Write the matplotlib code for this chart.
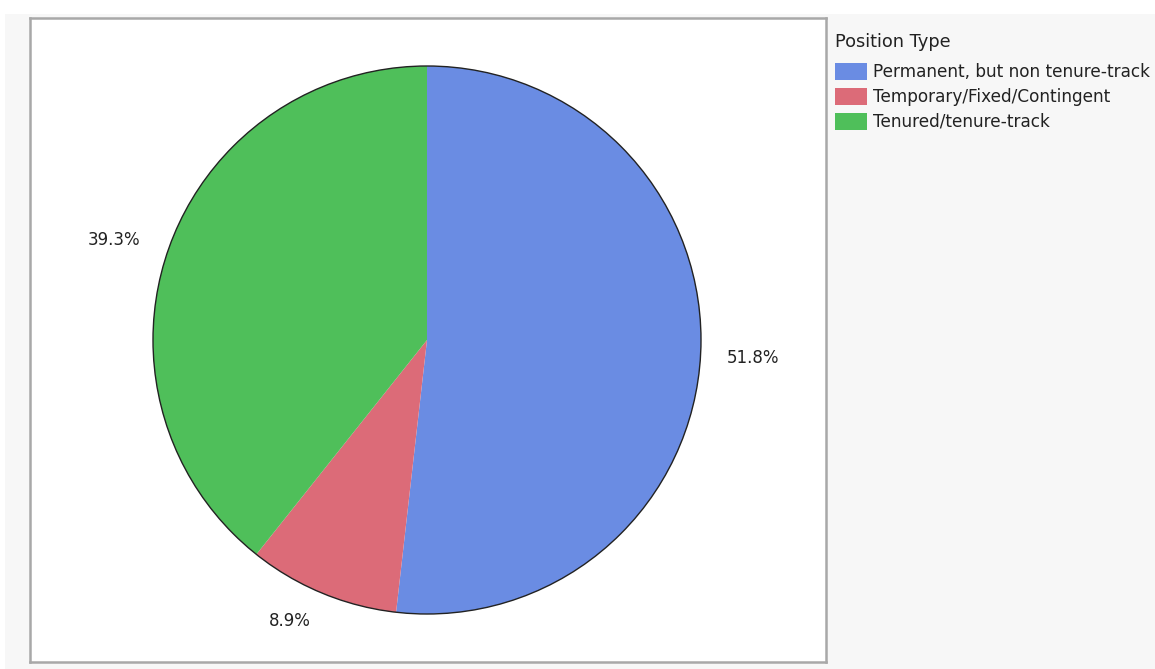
import matplotlib
matplotlib.use("Agg")
import numpy as np
import matplotlib.pyplot as plt
from matplotlib.patches import Rectangle

categories = ["Permanent, but non tenure-track", "Temporary/Fixed/Contingent", "Tenured/tenure-track"]
values = [51.8, 8.9, 39.3]
colors = ["#6A8CE3", "#DC6B78", "#4FBF5A"]
legend_title = "Position Type"

W, H = 1155, 669
fig = plt.figure(figsize=(W / 100, H / 100), dpi=100, facecolor="#f7f7f7")

# white strips at top and left
fig.add_artist(Rectangle((0, (H - 14) / H), 1, 14 / H, transform=fig.transFigure,
                         facecolor="white", edgecolor="none", zorder=0))
fig.add_artist(Rectangle((0, 0), 5 / W, 1, transform=fig.transFigure,
                         facecolor="white", edgecolor="none", zorder=0))

# plot frame
frame = fig.add_axes([30 / W, 7 / H, 796 / W, 644 / H])
frame.set_facecolor("white")
frame.set_xticks([]); frame.set_yticks([])
for s in frame.spines.values():
    s.set_color("#a8a8a8"); s.set_linewidth(1.8)

# pie axes
cx, cy, r = 427, H - 340, 274
ax = fig.add_axes([(cx - r) / W, (cy - r) / H, 2 * r / W, 2 * r / H])
ax.set_axis_off()
wedges, texts, autotexts = ax.pie(values, colors=colors, startangle=90, counterclock=False,
                                  autopct="%.1f%%", pctdistance=1.19, radius=1,
                                  wedgeprops=dict(linewidth=0),
                                  textprops=dict(fontsize=12, color="#222222", family="DejaVu Sans"))
# label placement: distance and angular nudge per label
label_dist = [1.19, 1.14, 1.20]
label_nudge = [0.0, -3.5, 1.5]
for w, t, d, n in zip(wedges, autotexts, label_dist, label_nudge):
    ang = np.deg2rad((w.theta1 + w.theta2) / 2 + n)
    t.set_position((d * np.cos(ang), d * np.sin(ang)))
    t.set_clip_on(False)
ax.add_patch(plt.Circle((0, 0), 1, fill=False, edgecolor="#222222", linewidth=1.0, clip_on=False))
ax.set_xlim(-1, 1); ax.set_ylim(-1, 1)
ax.set_aspect("equal")
for w in wedges:
    w.set_clip_on(False)

# legend
fig.text(835 / W, (H - 42) / H, legend_title, fontsize=12.8, color="#222222",
         va="center", ha="left", family="DejaVu Sans")
for i, (c, col) in enumerate(zip(categories, colors)):
    ytop = 63 + 25 * i
    fig.add_artist(Rectangle((835 / W, (H - ytop - 17) / H), 32 / W, 17 / H,
                             transform=fig.transFigure, facecolor=col, edgecolor="none"))
    fig.text(873 / W, (H - ytop - 9) / H, c, fontsize=12.2, color="#222222",
             va="center", ha="left", family="DejaVu Sans")

fig.savefig("out.png", dpi=100, facecolor=fig.get_facecolor())
